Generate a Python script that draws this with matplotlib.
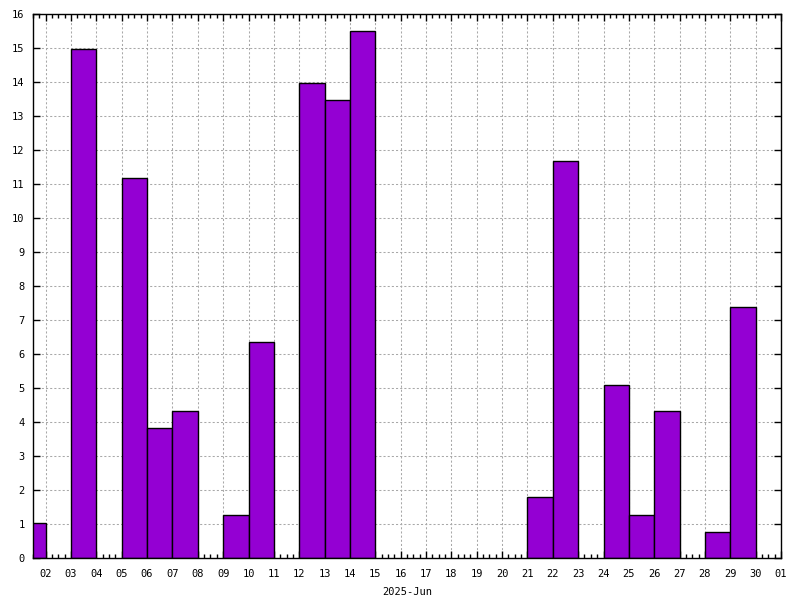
import datetime as dt
import matplotlib
matplotlib.use("Agg")
import matplotlib.pyplot as plt
import matplotlib.dates as mdates
from matplotlib.ticker import MultipleLocator

# Data: day of June 2025 (bar starts at that day) and value
days = [1, 3, 5, 6, 7, 9, 10, 12, 13, 14, 21, 22, 24, 25, 26, 28, 29]
values = [1.02, 14.97, 11.18, 3.82, 4.32, 1.26, 6.35, 13.97, 13.47, 15.5,
          1.79, 11.68, 5.08, 1.26, 4.32, 0.76, 7.38]
xlabel = "2025-Jun"
bar_color = "#9400D3"

dates = [dt.datetime(2025, 6, d) for d in days]

fig = plt.figure(figsize=(8, 6), dpi=100)
ax = fig.add_axes([33/800, 1 - 558/600, (781-33)/800, (558-14)/600])

ax.bar(dates, values, width=1.0, align="edge", color=bar_color,
       edgecolor="black", linewidth=1.0, zorder=3)

ax.set_xlim(dt.datetime(2025, 6, 1, 12), dt.datetime(2025, 7, 1))
ax.set_ylim(0, 16)

font = {"family": "DejaVu Sans Mono", "size": 7.5}

ax.xaxis.set_major_locator(mdates.DayLocator())
ax.xaxis.set_minor_locator(mdates.HourLocator(byhour=[6, 12, 18]))
ax.xaxis.set_major_formatter(mdates.DateFormatter("%d"))
ax.yaxis.set_major_locator(MultipleLocator(1))

ax.tick_params(axis="both", which="major", direction="in", length=5,
               width=1.0, top=True, right=True, pad=6)
ax.tick_params(axis="x", which="major", pad=8)
ax.tick_params(axis="x", which="minor", direction="in", length=3,
               width=1.0, top=True, bottom=True)
for lab in ax.get_xticklabels() + ax.get_yticklabels():
    lab.set_fontfamily(font["family"])
    lab.set_fontsize(font["size"])

ax.grid(True, which="major", color="#a8a8a8", linestyle=(0, (2, 2)),
        linewidth=0.75, zorder=0)
ax.set_axisbelow(True)

for s in ax.spines.values():
    s.set_linewidth(1.0)
    s.set_zorder(5)

ax.set_xlabel(xlabel, fontfamily=font["family"], fontsize=font["size"],
              labelpad=6)

fig.savefig("out.png", dpi=100)
